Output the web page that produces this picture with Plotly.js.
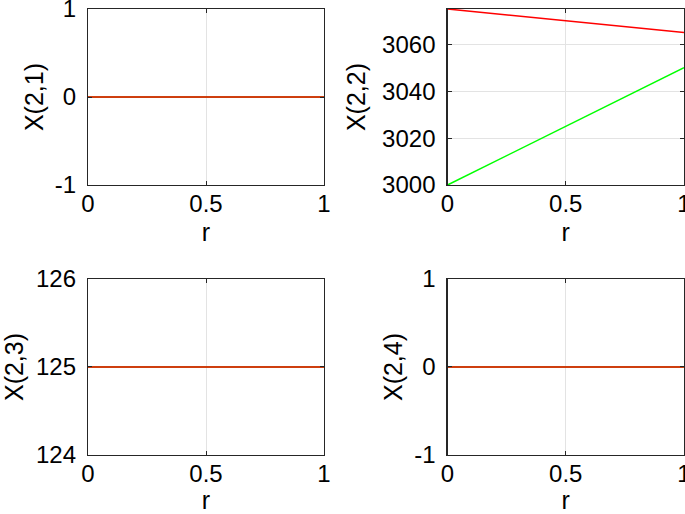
<!DOCTYPE html>
<html><head><meta charset="utf-8">
<script src="https://cdn.plot.ly/plotly-3.0.1.min.js"></script>
<style>html,body{margin:0;padding:0;background:#fff}#chart{width:685px;height:514px}</style>
</head><body><div id="chart"></div>
<script>
const r = [0, 1];
const x21Red = [0, 0];
const x21Green = [0, 0];
const x22Red = [3075, 3065];
const x22Green = [3000, 3050];
const x23Red = [125, 125];
const x23Green = [125, 125];
const x24Red = [0, 0];
const x24Green = [0, 0];
const yTitles = ['X(2,1)', 'X(2,2)', 'X(2,3)', 'X(2,4)'];
const xTitle = 'r';
const xTickVals = [0, 0.5, 1];
const xTickText = ['0', '0.5', '1'];
const yTickVals = [[-1, 0, 1], [3000, 3020, 3040, 3060], [124, 125, 126], [-1, 0, 1]];
const yTickText = [['-1', '0', '1'], ['3000', '3020', '3040', '3060'], ['124', '125', '126'], ['-1', '0', '1']];
const yRanges = [[-1, 1], [3000, 3075], [124, 126], [-1, 1]];

const greens = [x21Green, x22Green, x23Green, x24Green];
const reds = [x21Red, x22Red, x23Red, x24Red];
const traces = [];
for (let i = 0; i < 4; i++) {
  const xa = i === 0 ? 'x' : 'x' + (i + 1);
  const ya = i === 0 ? 'y' : 'y' + (i + 1);
  traces.push({x: r, y: greens[i], xaxis: xa, yaxis: ya, mode: 'lines', line: {color: '#00ff00', width: 1.5}, hoverinfo: 'skip'});
  traces.push({x: r, y: reds[i], xaxis: xa, yaxis: ya, mode: 'lines', line: {color: '#ff0000', width: 1.5}, hoverinfo: 'skip'});
}
const tickFont = {family: 'Liberation Sans, Arial, sans-serif', size: 24, color: '#000'};
const titleFont = {family: 'Liberation Sans, Arial, sans-serif', size: 25, color: '#000'};
const colDom = [[0.1285, 0.473], [0.6533, 0.9985]];
const rowDom = [[0.640, 0.9825], [0.1148, 0.4572]];
const yTitleStandoff = [4, 9, 9, 4];
const layout = {
  width: 685, height: 514, showlegend: false,
  margin: {l: 0, r: 0, t: 0, b: 0},
  paper_bgcolor: '#fff', plot_bgcolor: '#fff',
  font: tickFont
};
for (let i = 0; i < 4; i++) {
  const sfx = i === 0 ? '' : String(i + 1);
  const col = i % 2, row = Math.floor(i / 2);
  layout['xaxis' + sfx] = {
    domain: colDom[col], range: [0, 1], anchor: 'y' + sfx,
    tickvals: xTickVals, ticktext: xTickText,
    showgrid: true, gridcolor: '#e3e3e3', gridwidth: 1,
    zeroline: false, showline: true, linecolor: '#262626', linewidth: 1.2, mirror: 'ticks',
    ticks: 'inside', ticklen: 4, tickcolor: '#262626', ticklabelstandoff: -3,
    ticklabeloverflow: 'allow',
    tickfont: tickFont,
    title: {text: xTitle, font: titleFont, standoff: 7}
  };
  layout['yaxis' + sfx] = {
    domain: rowDom[row], range: yRanges[i], anchor: 'x' + sfx,
    tickvals: yTickVals[i], ticktext: yTickText[i],
    showgrid: true, gridcolor: '#e3e3e3', gridwidth: 1,
    zeroline: false, showline: true, linecolor: '#262626', linewidth: 1.2, mirror: 'ticks',
    ticks: 'inside', ticklen: 4, tickcolor: '#262626', ticklabelstandoff: 6,
    ticklabeloverflow: 'allow',
    tickfont: tickFont,
    title: {text: yTitles[i], font: titleFont, standoff: yTitleStandoff[i]}
  };
}
Plotly.newPlot('chart', traces, layout, {staticPlot: true});
</script></body></html>
